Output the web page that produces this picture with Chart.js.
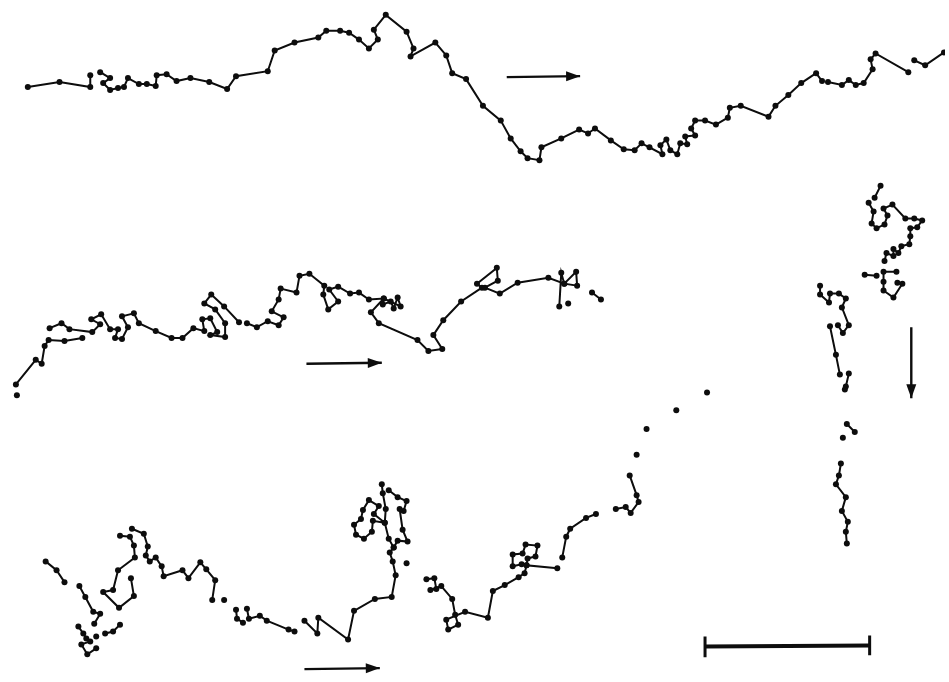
<!DOCTYPE html>
<html>
<head>
<meta charset="utf-8">
<script src="https://cdn.jsdelivr.net/npm/chart.js@4/dist/chart.umd.min.js"></script>
<style>
    html, body { margin: 0; padding: 0; background: #fff; }
    #wrap { width: 949px; height: 682px; }
</style>
</head>
<body>
<div id="wrap"><canvas id="tracks" width="949" height="682"></canvas></div>
<script>
    // track positions (x, y in image units), null = gap in the track
    const topTrack = [
        [24, 84], [56, 79], [87, 84], [87, 72], null, [97, 69], [107, 75], [100, 80], [107, 87],
        [115, 85], [121, 84], [125, 75], [136, 81], [144, 81], [153, 83], [154, 72], [164, 71],
        [174, 78], [188, 75], [207, 79], [225, 86], [234, 73], [266, 68], [273, 47], [293, 39],
        [317, 34], [325, 27], [339, 27], [348, 29], [358, 36], [368, 45], [377, 36], [373, 26],
        [385, 11], [406, 28], [413, 45], [410, 53], [435, 39], [446, 52], [452, 70], [466, 76],
        [483, 103], [501, 118], [511, 136], [521, 149], [528, 156], [540, 158], [542, 145],
        [562, 136], [580, 127], [589, 131], [596, 126], [612, 138], [625, 147], [636, 148],
        [643, 141], [651, 145], [664, 152], [662, 143], [668, 137], [672, 148], [679, 152],
        [682, 141], [689, 142], [687, 134], [697, 133], [693, 126], [697, 118], [707, 118],
        [718, 122], [730, 115], [732, 105], [743, 103], [771, 114], [778, 103], [791, 92],
        [804, 80], [819, 70], [825, 78], null, [831, 79], [845, 82], [852, 77], [859, 82],
        [867, 80], [876, 66], [874, 56], [879, 50], [912, 69], null, [918, 57], [929, 62], [948, 49],
    ];

    const middleTrack = [
        [13, 396], null, [12, 385], [32, 360], [38, 364], [41, 346], [45, 340], [61, 341], [79, 338],
        null, [46, 328], [58, 323], [66, 329], [89, 332], [97, 324], [88, 319], [98, 314],
        [107, 329], [115, 329], [112, 338], [119, 339], [125, 327], [119, 316], [131, 313],
        [136, 323], [153, 331], [169, 338], [180, 338], [191, 328], [202, 331], [200, 319],
        [208, 318], [215, 332], [208, 335], [223, 337], [223, 323], [213, 309], [202, 303],
        [209, 294], [222, 306], [237, 322], null, [245, 323], [255, 327], [266, 321], [277, 325],
        [282, 317], [270, 311], [277, 299], [279, 288], [295, 292], [298, 275], [308, 273],
        [323, 285], [322, 294], [327, 309], [337, 301], [328, 289], [337, 286], [349, 293],
        [358, 292], [368, 299], [383, 298], [382, 304], [390, 301], [393, 308], [397, 297],
        [400, 306], [383, 298], [370, 312], [378, 323], [417, 340], [428, 351], [442, 349],
        [433, 335], [443, 320], [461, 301], [482, 287], [477, 283], [497, 267], [498, 280],
        [485, 287], [500, 293], [518, 282], [549, 277], [565, 283], [577, 271], [578, 285],
        [565, 283], [562, 272], [560, 306], null, [569, 303], null, [593, 292], [602, 299],
    ];

    const rightTrack = [
        [884, 184], [878, 196], null, [872, 201], [877, 210], [875, 222], [880, 227], [888, 223],
        [891, 214], [887, 207], [896, 203], [909, 217], [918, 217], [926, 219], [921, 226],
        [914, 227], [914, 235], [913, 243], [905, 245], [902, 252], [897, 248], [897, 255],
        [890, 252], [888, 260], null, [900, 271], [887, 271], [887, 281], [887, 290], [897, 297],
        [906, 283], [901, 282], null, [880, 275], [868, 274], null, [823, 285], [823, 294],
        [832, 302], [833, 293], [842, 293], [849, 298], [845, 307], [852, 325], [846, 333],
        [841, 325], null, [833, 326], [839, 355], [843, 375], null, [852, 374], [849, 387],
        [848, 390], null, [850, 425], [858, 433], null, [846, 439], null, [844, 465], [842, 477],
        [839, 486], [849, 499], [845, 513], [851, 524], [849, 534], [850, 546],
    ];

    const bottomTrack = [
        [42, 564], [53, 573], [61, 585], null, [76, 589], [82, 600], [90, 615], [97, 617],
        [91, 627], null, [75, 630], [80, 637], [83, 642], [87, 645], [78, 648], [84, 658],
        [93, 652], null, [93, 640], null, [102, 637], [110, 635], [117, 628], null,
        [128, 581], [131, 599], [116, 611], [100, 595], [110, 593], [115, 573], [132, 560],
        [131, 548], [127, 539], [117, 538], null, [129, 531], [141, 536], [145, 549], [143, 558],
        [147, 564], [153, 560], [159, 569], [161, 579], [180, 573], [186, 581], [198, 565],
        [204, 572], [213, 583], [210, 603], null, [222, 603], null, [234, 613], [235, 622],
        [241, 626], null, [245, 612], [247, 622], [258, 619], [265, 624], [287, 633], [293, 635],
        null, [303, 624], [316, 637], [317, 621], [347, 643], [353, 614], [374, 602], [391, 600],
        [395, 578], [392, 564], [389, 555], [393, 550], [388, 541], [384, 525], [373, 516],
        [378, 508], [368, 502], [362, 512], [360, 521], [353, 527], [355, 537], [363, 541],
        [371, 534], [372, 523], [384, 525], [385, 511], [382, 495], [381, 486], null, [388, 492],
        [397, 499], [406, 503], [403, 513], [399, 511], [402, 532], [407, 544], [397, 543],
        [393, 550], null, [406, 566], null, [426, 582], [434, 581], [436, 592], [430, 593],
        [441, 589], [452, 602], [455, 618], [458, 628], [448, 633], [446, 623], [465, 615],
        [488, 621], [493, 594], [505, 588], [519, 580], [525, 576], [527, 568], [522, 567],
        [513, 569], [513, 557], [523, 556], [526, 547], [538, 548], [536, 559], [528, 561],
        [527, 568], [558, 571], null, [563, 560], [567, 539], [571, 531], [587, 520], [597, 516],
        null, [617, 511], [627, 509], [632, 515], [640, 504], [638, 497], [631, 477], null,
        [638, 456], null, [648, 430], null, [678, 411], null, [709, 393],
    ];

    // direction arrows (tail, head)
    const arrows = [
        [[507, 74], [581, 73]],
        [[305, 364], [381, 363]],
        [[915, 327], [915, 399]],
        [[303, 673], [379, 672]],
    ];

    // scale bar and its end caps
    const scaleBar = [[707, 650], [873, 649]];
    const scaleCaps = [
        [[707, 640], [707, 661]],
        [[873, 639], [873, 659]],
    ];

    const toPoints = (pairs) =>
        pairs.map((p) => (p ? { x: p[0], y: p[1] } : { x: null, y: null }));

    const trackSet = (pairs) => ({
        data: toPoints(pairs),
        showLine: true,
        spanGaps: false,
        borderColor: "#0d0d0d",
        backgroundColor: "#0d0d0d",
        borderWidth: 2,
        pointRadius: 3,
        pointBorderWidth: 0,
    });

    const lineSet = (pairs, width, arrow) => ({
        data: toPoints(pairs),
        showLine: true,
        borderColor: "#0d0d0d",
        borderWidth: width,
        pointRadius: 0,
        arrow: arrow,
    });

    const arrowHeads = {
        id: "arrowHeads",
        afterDatasetsDraw(chart) {
            const ctx = chart.ctx;
            chart.data.datasets.forEach((ds, i) => {
                if (!ds.arrow) return;
                const pts = chart.getDatasetMeta(i).data;
                const a = pts[pts.length - 2];
                const b = pts[pts.length - 1];
                const ang = Math.atan2(b.y - a.y, b.x - a.x);
                const len = 14;
                const half = 5;
                ctx.save();
                ctx.translate(b.x, b.y);
                ctx.rotate(ang);
                ctx.fillStyle = "#0d0d0d";
                ctx.beginPath();
                ctx.moveTo(0, 0);
                ctx.lineTo(-len, -half);
                ctx.lineTo(-len, half);
                ctx.closePath();
                ctx.fill();
                ctx.restore();
            });
        },
    };

    const datasets = [
        trackSet(topTrack),
        trackSet(middleTrack),
        trackSet(rightTrack),
        trackSet(bottomTrack),
        ...arrows.map((a) => lineSet(a, 2.4, true)),
        lineSet(scaleBar, 4, false),
        ...scaleCaps.map((c) => lineSet(c, 3, false)),
    ];

    new Chart(document.getElementById("tracks"), {
        type: "scatter",
        data: { datasets },
        options: {
            responsive: false,
            animation: false,
            events: [],
            layout: { padding: 0 },
            plugins: {
                legend: { display: false },
                tooltip: { enabled: false },
            },
            scales: {
                x: { type: "linear", min: 0, max: 949, display: false },
                y: { type: "linear", min: 0, max: 682, reverse: true, display: false },
            },
        },
        plugins: [arrowHeads],
    });
</script>
</body>
</html>
